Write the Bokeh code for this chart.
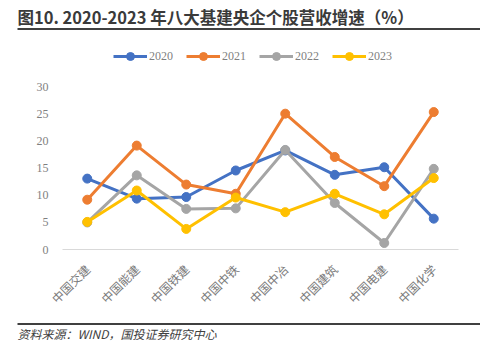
import math
from bokeh.plotting import figure
from bokeh.layouts import column
from bokeh.models import (Legend, LegendItem, FixedTicker, Range1d, FactorRange, ColumnDataSource)
from bokeh.core.properties import value
from bokeh.embed import file_html
from bokeh.resources import INLINE

categories = ["中国交建", "中国能建", "中国铁建", "中国中铁", "中国中冶", "中国建筑", "中国电建", "中国化学"]
y2020 = [13.1, 9.4, 9.7, 14.6, 18.3, 13.8, 15.2, 5.7]
y2021 = [9.2, 19.2, 12.0, 10.3, 25.1, 17.1, 11.7, 25.4]
y2022 = [5.0, 13.7, 7.5, 7.6, 18.4, 8.6, 1.2, 14.9]
y2023 = [5.1, 10.9, 3.8, 9.6, 6.9, 10.3, 6.5, 13.2]
series_names = ["2020", "2021", "2022", "2023"]
series_colors = ["#4472C4", "#ED7D31", "#A5A5A5", "#FFC000"]
y_ticks = [0, 5, 10, 15, 20, 25, 30]
title_text = "图10. 2020-2023 年八大基建央企个股营收增速（%）"
source_text = "资料来源：WIND，国投证券研究中心"


def blank(height):
    f = figure(width=480, height=height, x_range=Range1d(0, 480), y_range=Range1d(height, 0),
               output_backend="svg", toolbar_location=None, min_border=0,
               x_axis_type=None, y_axis_type=None)
    f.frame_align = False
    f.xgrid.grid_line_color = None
    f.ygrid.grid_line_color = None
    f.outline_line_color = None
    return f


# header: title + rule
top = blank(32)
top.text(x=[17], y=[16], text=[title_text], text_font=value("Noto Sans CJK SC"),
         text_font_style="bold", text_font_size="16.5px", text_color="#3A3A3A",
         text_baseline="middle", text_align="left")
top.segment(x0=[17], y0=[28.5], x1=[480], y1=[28.5], line_color="black", line_width=1.5)

# main chart (frame extends up to hold the legend; ticks stop at 30)
p = figure(width=480, height=290,
           x_range=FactorRange(*categories, range_padding=0),
           y_range=Range1d(0, 40.1),
           output_backend="svg", toolbar_location=None,
           min_border_left=62, min_border_right=22,
           min_border_top=0, min_border_bottom=73)
p.frame_align = False
p.outline_line_color = None
p.xgrid.grid_line_color = None
p.ygrid.grid_line_color = None

ya = p.yaxis[0]
ya.ticker = FixedTicker(ticks=y_ticks)
ya.axis_line_color = None
ya.major_tick_line_color = None
ya.minor_tick_line_color = None
ya.major_tick_out = 0
ya.major_tick_in = 0
ya.major_label_standoff = 14
ya.major_label_text_font = "Liberation Serif"
ya.major_label_text_font_size = "12px"
ya.major_label_text_color = "#7F7F7F"

xa = p.xaxis[0]
xa.axis_line_color = "#D9D9D9"
xa.axis_line_width = 1
xa.major_tick_line_color = None
xa.minor_tick_line_color = None
xa.major_tick_out = 0
xa.major_tick_in = 0
xa.major_label_standoff = 17
xa.major_label_orientation = math.pi / 4
xa.major_label_text_font = "Noto Sans CJK SC"
xa.major_label_text_font_size = "12px"
xa.major_label_text_color = "#7A7A7A"

src = ColumnDataSource(dict(cat=categories, y2020=y2020, y2021=y2021, y2022=y2022, y2023=y2023))
items = []
for name, col in zip(series_names, series_colors):
    lr = p.line("cat", "y" + name, source=src, line_color=col, line_width=3)
    sr = p.scatter("cat", "y" + name, source=src, size=9, fill_color=col, line_color=col)
    items.append(LegendItem(label=name, renderers=[lr, sr]))

legend = Legend(items=items, orientation="horizontal", location=(51, 183),
                padding=0, margin=0, spacing=13, glyph_width=34, glyph_height=20,
                label_standoff=2, border_line_color=None, background_fill_alpha=0,
                label_text_font="Liberation Serif", label_text_font_size="12px",
                label_text_color="#7F7F7F")
p.add_layout(legend)

# footer: rule + source
bot = blank(33)
bot.segment(x0=[17], y0=[1.5], x1=[480], y1=[1.5], line_color="#404040", line_width=2)
bot.text(x=[17], y=[10.5], text=[source_text], text_font=value("Noto Sans CJK SC"),
         text_font_style="italic", text_font_size="12px", text_color="#404040",
         text_baseline="middle", text_align="left")

layout = column(top, p, bot, spacing=0)
open("out.html", "w").write(file_html(layout, INLINE))
